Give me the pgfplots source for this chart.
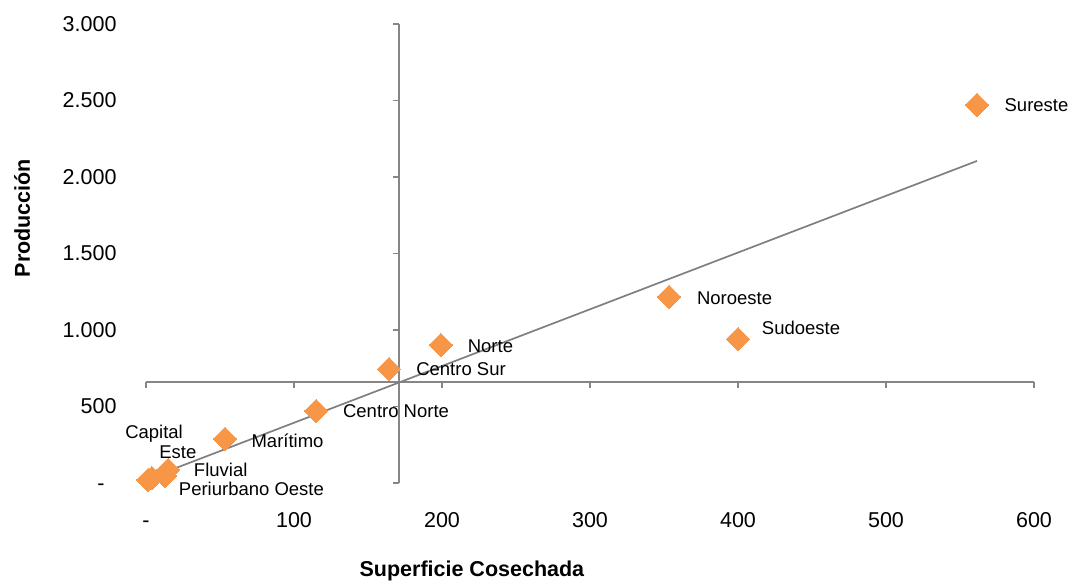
\documentclass[border=0pt]{standalone}
\usepackage{pgfplots}
\pgfplotsset{compat=1.18}
\usepackage{pgfplotstable}
\usepackage{fontspec}
\setmainfont{Liberation Sans}
\definecolor{orng}{HTML}{F79646}
\definecolor{axgray}{HTML}{868686}
\definecolor{trendgray}{HTML}{7F7F7F}

\pgfplotstableread{
x      y     dx    dy   label
561.5  2471  59.5  0    Sureste
353.4  1216  65.5  -1   Noroeste
400    941   63    11   Sudoeste
199.3  902   49.5  -1   Norte
164.2  745   72    0    {Centro Sur}
114.9  471   80    0    {Centro Norte}
53.4   288   62.5  -2   Marítimo
1.4    20    6     46   Capital
4      33    26    26   Este
15     85    52.5  0    Fluvial
12.8   46    86.5  -13  {Periurbano Oeste}
}\datatable

\begin{document}
\begin{tikzpicture}
\path[use as bounding box] (-146pt,-98pt) rectangle (923pt,483pt);
\begin{axis}[
  at={(0,0)}, anchor=south west,
  scale only axis, width=888pt, height=459pt,
  xmin=0, xmax=600, ymin=0, ymax=3000,
  clip=false,
  axis line style={draw=none},
  tick style={draw=none},
  major tick length=0pt,
  xtick={0,100,200,300,400,500,600},
  xticklabels={-,100,200,300,400,500,600},
  ytick={0,500,1000,1500,2000,2500,3000},
  yticklabels={-\phantom{0},500,1.000,1.500,2.000,2.500,3.000},
  tick label style={font=\fontsize{21.5pt}{25pt}\selectfont},
  xticklabel style={yshift=-26pt, text height=15.4pt, text depth=0pt},
  yticklabel style={xshift=-26pt},
]
% crossing axes
\draw[axgray, line width=1.6pt] (axis cs:0,660) -- (axis cs:600,660);
\draw[axgray, line width=1.6pt] (axis cs:171,0) -- (axis cs:171,3000);
\pgfplotsinvokeforeach{0,100,200,300,400,500,600}{
  \draw[axgray, line width=1.6pt] (axis cs:#1,660) -- ++(0pt,-6pt);
}
\pgfplotsinvokeforeach{0,500,1000,1500,2000,2500,3000}{
  \draw[axgray, line width=1.6pt] (axis cs:171,#1) -- ++(-6pt,0pt);
}
% trendline
\addplot[trendgray, line width=1.7pt] coordinates {(2.7,33) (561.5,2105)};
% points with labels
\addplot[only marks, mark=square*, mark size=8.3pt, color=orng,
  mark options={rotate=45, fill=orng, draw=orng, line width=0pt},
  point meta=explicit symbolic,
  visualization depends on={\thisrow{dx} \as \dx},
  visualization depends on={\thisrow{dy} \as \dy},
  nodes near coords,
  nodes near coords style={anchor=center, xshift=\dx pt, yshift=\dy pt,
     font=\fontsize{18.5pt}{22pt}\selectfont, text=black},
] table[x=x, y=y, meta=label] {\datatable};
\node[font=\fontsize{21.5pt}{25pt}\selectfont\bfseries] at (rel axis cs:0.367,-0.1917) {Superficie Cosechada};
\node[font=\fontsize{21.5pt}{25pt}\selectfont\bfseries, rotate=90] at (rel axis cs:-0.1396,0.577) {Producción};
\end{axis}
\end{tikzpicture}
\end{document}
